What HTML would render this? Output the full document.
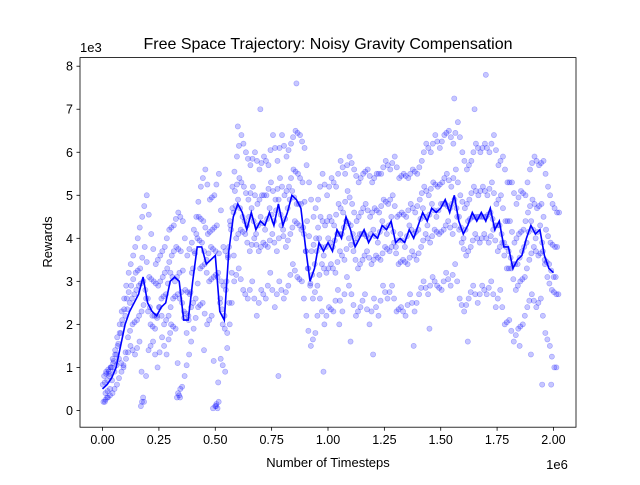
<!DOCTYPE html>
<html><head><meta charset="utf-8"><style>
body{margin:0;background:#fff;}
svg text{font-family:"Liberation Sans","DejaVu Sans",sans-serif;fill:#000;}
</style></head><body>
<svg id="chart" width="640" height="480" xmlns="http://www.w3.org/2000/svg">
<rect width="640" height="480" fill="#fff"/>
<text x="328" y="49" font-size="16" text-anchor="middle">Free Space Trajectory: Noisy Gravity Compensation</text>
<text x="328" y="467" font-size="13" text-anchor="middle">Number of Timesteps</text>
<text x="0" y="0" font-size="13" text-anchor="middle" transform="translate(52,242) rotate(-90)">Rewards</text>
<text x="557" y="469" font-size="13" text-anchor="middle">1e6</text>
<text x="80" y="52" font-size="13">1e3</text>
<g id="marks"></g>
<g id="axes"></g>
</svg>
<script>
const xTicks=[0,0.25,0.5,0.75,1.0,1.25,1.5,1.75,2.0];
const xTickLabels=["0.00","0.25","0.50","0.75","1.00","1.25","1.50","1.75","2.00"];
const yTicks=[0,1,2,3,4,5,6,7,8];
const yTickLabels=["0","1","2","3","4","5","6","7","8"];
const lineX=[0,0.02,0.04,0.06,0.08,0.10,0.12,0.14,0.16,0.18,0.20,0.22,0.24,0.26,0.28,0.30,0.32,0.34,0.36,0.38,0.40,0.42,0.44,0.46,0.48,0.50,0.52,0.54,0.56,0.58,0.60,0.62,0.64,0.66,0.68,0.70,0.72,0.74,0.76,0.78,0.80,0.82,0.84,0.86,0.88,0.90,0.92,0.94,0.96,0.98,1.00,1.02,1.04,1.06,1.08,1.10,1.12,1.14,1.16,1.18,1.20,1.22,1.24,1.26,1.28,1.30,1.32,1.34,1.36,1.38,1.40,1.42,1.44,1.46,1.48,1.50,1.52,1.54,1.56,1.58,1.60,1.62,1.64,1.66,1.68,1.70,1.72,1.74,1.76,1.78,1.80,1.82,1.84,1.86,1.88,1.90,1.92,1.94,1.96,1.98,2.00];
const lineY=[0.5,0.6,0.75,1.0,1.5,2.0,2.3,2.5,2.7,3.1,2.5,2.3,2.2,2.4,2.5,3.0,3.1,3.0,2.1,2.1,3.0,3.8,3.8,3.4,3.5,3.6,2.3,2.1,3.7,4.5,4.8,4.6,4.2,4.6,4.2,4.4,4.3,4.6,4.3,4.8,4.3,4.6,5.0,4.9,4.7,3.8,3.0,3.3,3.9,3.7,3.9,3.7,4.2,4.0,4.5,4.2,3.8,4.0,4.2,3.9,4.1,4.0,4.3,4.2,4.4,3.9,4.0,3.9,4.2,4.0,4.3,4.6,4.4,4.7,4.6,4.7,4.9,4.6,5.0,4.4,4.1,4.3,4.6,4.4,4.6,4.4,4.7,4.2,4.4,3.8,3.8,3.3,3.5,3.6,4.0,4.3,4.1,4.2,3.6,3.3,3.2];
const scatterX=lineX;
const scatterA=[0.2,0.3,0.4,0.6,0.9,1.2,1.5,1.3,1.6,0.2,1.4,1.6,1.0,1.7,1.3,2.0,1.9,0.3,0.8,1.3,1.9,2.4,2.5,2.0,2.2,0.1,1.2,0.9,2.0,3.0,3.3,2.8,2.6,3.0,2.2,2.8,2.6,3.2,2.4,3.0,2.6,2.9,3.4,3.1,3.0,2.2,1.5,1.8,2.6,2.0,2.4,2.3,2.8,2.3,3.1,2.7,2.2,2.4,2.7,2.0,2.6,2.2,2.9,2.6,2.9,2.3,2.4,2.2,2.7,2.3,2.7,3.0,2.7,3.1,2.9,2.8,3.2,2.9,3.4,2.6,2.3,2.6,2.9,2.5,2.9,2.7,3.0,2.4,2.8,2.0,2.1,1.6,1.9,2.0,2.4,2.7,2.4,2.6,1.8,1.5,1.0];
const scatterB=[0.4,0.5,0.9,1.2,1.0,1.7,2.0,2.1,2.3,2.6,2.0,1.9,2.4,2.0,2.2,2.6,2.7,2.5,1.8,2.4,2.6,3.3,3.4,3.0,3.1,3.2,2.0,1.8,3.2,4.0,4.2,4.1,3.7,4.0,3.7,3.9,3.8,4.1,3.7,4.3,3.8,4.1,4.4,4.3,4.1,3.3,2.6,2.9,3.4,3.2,3.4,3.2,3.7,3.5,4.0,3.7,3.3,3.5,3.7,3.4,3.6,3.5,3.8,3.7,3.9,3.4,3.5,3.4,3.7,3.5,3.8,4.1,3.9,4.2,4.1,4.2,4.4,4.1,4.5,3.9,3.6,3.8,4.1,3.9,4.1,3.9,4.2,3.7,3.9,3.3,3.3,2.8,3.0,3.1,3.5,3.8,3.6,3.7,3.1,2.8,2.7];
const scatterC=[0.8,0.9,1.1,1.5,2.1,2.6,2.9,3.2,3.3,3.8,3.1,3.0,2.9,3.1,3.3,3.6,3.8,3.7,2.8,2.7,3.7,4.5,4.4,4.1,4.2,4.3,3.0,2.8,4.3,5.1,5.4,5.2,4.9,5.2,4.8,5.0,5.0,5.3,4.9,5.4,5.0,5.2,5.6,5.5,5.3,4.4,3.7,4.0,4.5,4.3,4.5,4.3,4.8,4.6,5.1,4.8,4.4,4.6,4.8,4.5,4.7,4.6,4.9,4.8,5.0,4.5,4.6,4.5,4.8,4.6,4.9,5.2,5.0,5.3,5.2,5.3,5.5,5.2,5.6,5.0,4.7,4.9,5.2,5.0,5.2,5.0,5.3,4.8,5.0,4.4,4.4,3.9,4.1,4.2,4.6,4.9,4.7,4.8,4.2,3.9,3.8];
const scatterD=[0.9,1.0,1.4,2.0,2.6,3.2,3.6,4.0,4.5,5.0,4.1,3.4,3.6,3.8,4.2,4.3,4.6,4.4,3.6,3.9,4.5,5.2,5.6,4.9,5.0,5.5,3.8,3.6,5.2,5.9,6.4,6.0,5.7,6.0,5.6,5.9,5.7,6.4,5.8,6.4,5.9,6.2,6.5,6.4,6.1,5.3,4.5,4.9,5.5,5.0,5.4,5.2,5.8,5.5,5.9,5.6,5.3,5.5,5.6,5.3,5.5,5.5,5.8,5.6,5.9,5.4,5.5,5.4,5.6,5.5,5.8,6.2,6.0,6.4,6.1,6.4,6.5,6.2,6.7,6.0,5.6,5.8,6.2,6.0,6.2,6.0,6.4,5.7,5.9,5.3,5.3,4.8,5.1,5.0,5.6,5.9,5.7,5.8,5.2,4.8,4.6];
const scatterE=[0.6,0.7,1.0,1.3,1.8,2.2,2.5,2.7,2.9,3.0,2.6,2.2,2.2,2.6,2.7,3.2,3.0,3.2,2.3,2.2,3.3,4.0,3.9,3.5,3.8,3.7,2.5,2.2,3.8,4.6,4.9,4.5,4.3,4.7,4.1,4.5,4.2,4.7,4.4,4.9,4.2,4.7,5.1,4.8,4.8,3.7,2.9,3.4,4.0,3.6,4.0,3.8,4.1,4.1,4.4,4.3,3.9,4.1,4.1,4.0,4.2,3.9,4.4,4.1,4.5,3.8,4.1,3.8,4.3,4.1,4.2,4.7,4.3,4.8,4.5,4.8,4.8,4.7,4.9,4.5,4.0,4.4,4.5,4.5,4.5,4.5,4.6,4.3,4.3,3.9,3.7,3.4,3.4,3.7,3.9,4.4,4.0,4.3,3.5,3.4,3.1];
const outlierX=[0.17,0.175,0.18,0.33,0.335,0.34,0.345,0.49,0.5,0.505,0.51,0.515,0.86,0.7,1.7,1.56,0.6,0.98,1.05,1.2,1.38,1.45,1.65,1.85,1.95,0.3,0.45,0.78,1.1,1.9,0.02,0.01,0.03,1.99,1.62];
const outlierY=[0.1,0.2,0.3,0.3,0.4,0.35,0.5,0.05,0.1,0.15,0.05,0.2,7.6,7.0,7.8,7.25,6.6,0.9,2.0,1.3,1.5,1.9,7.0,1.5,0.6,1.8,1.4,0.8,1.6,1.3,0.3,0.2,0.8,0.6,1.6];
const X0=80,X1=576,Y0=57.6,Y1=427.2,xmin=-0.1,xmax=2.1,ymin=-0.39,ymax=8.2;
const sx=v=>X0+(v-xmin)/(xmax-xmin)*(X1-X0);
const sy=v=>Y1-(v-ymin)/(ymax-ymin)*(Y1-Y0);
const NS="http://www.w3.org/2000/svg";
const marks=document.getElementById('marks'),axes=document.getElementById('axes');
function mk(tag,attrs,parent){const e=document.createElementNS(NS,tag);for(const k in attrs)e.setAttribute(k,attrs[k]);parent.appendChild(e);return e;}
function dot(x,y){const c=mk('circle',{cx:sx(x),cy:sy(y),r:2.6,fill:'#0000ff','fill-opacity':0.22,stroke:'#0000ff','stroke-opacity':0.3,'stroke-width':0.6},marks);

}
const seriesShift=[0.004,0.013,0.007,0.016,0.001];
[scatterA,scatterB,scatterC,scatterD,scatterE].forEach((arr,k)=>{const s=seriesShift[k];scatterX.forEach((x,i)=>{if(arr[i]!==undefined){dot(x+s,arr[i]);dot(x+s+0.009,(arr[i]+(arr[i+1]!==undefined?arr[i+1]:arr[i]))/2);}});});
outlierX.forEach((x,i)=>dot(x,outlierY[i]));
const p=mk('path',{d:lineX.map((x,i)=>(i?'L':'M')+sx(x).toFixed(1)+','+sy(lineY[i]).toFixed(1)).join(''),fill:'none',stroke:'#0000ff','stroke-width':1.6},marks);


const fr=mk('rect',{x:X0,y:Y0,width:X1-X0,height:Y1-Y0,fill:'none',stroke:'#000','stroke-width':0.8},axes);


xTicks.forEach((t,i)=>{const x=sx(t);mk('line',{x1:x,x2:x,y1:Y1,y2:Y1+3.5,stroke:'#000','stroke-width':0.8},axes);
const tx=mk('text',{x:x,y:Y1+17,'font-size':12.5,'text-anchor':'middle'},axes);tx.textContent=xTickLabels[i];

});
yTicks.forEach((t,i)=>{const y=sy(t);mk('line',{x1:X0-3.5,x2:X0,y1:y,y2:y,stroke:'#000','stroke-width':0.8},axes);
const tx=mk('text',{x:X0-7,y:y+4.5,'font-size':12.5,'text-anchor':'end'},axes);tx.textContent=yTickLabels[i];

});
</script>
</body></html>
